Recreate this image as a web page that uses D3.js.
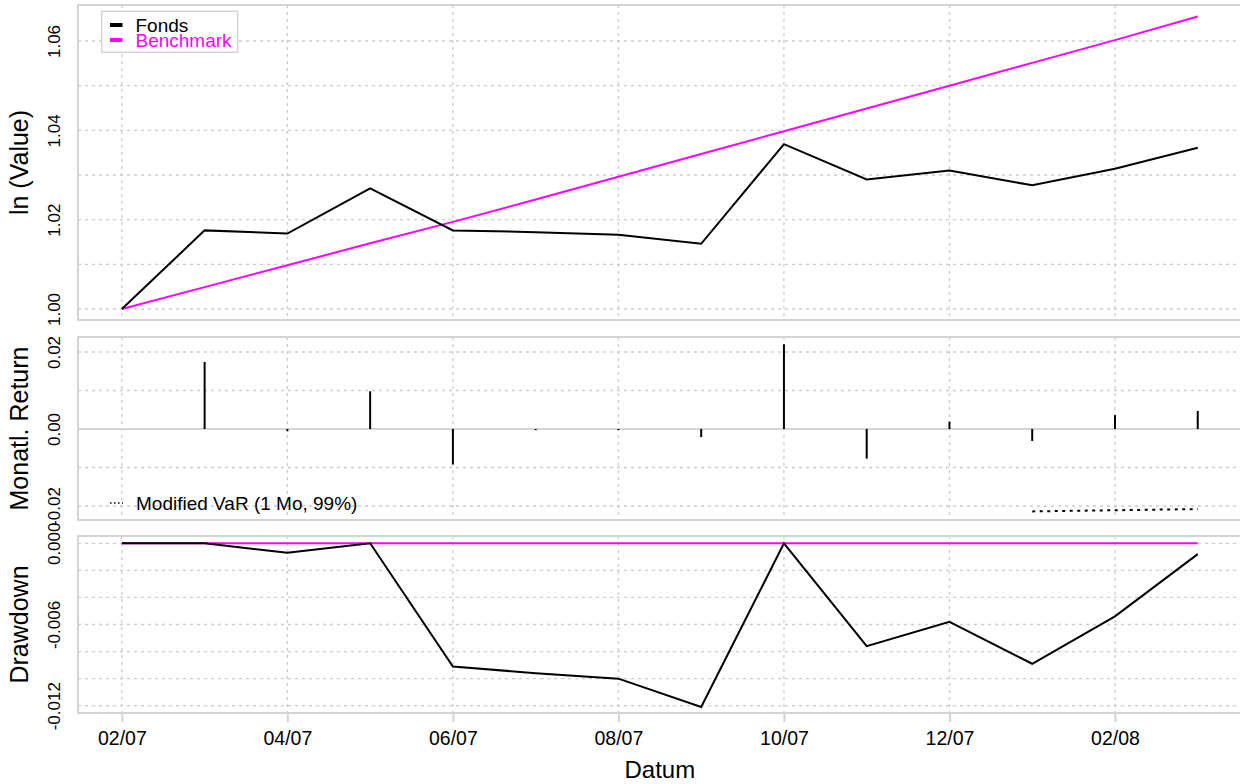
<!DOCTYPE html>
<html>
<head>
<meta charset="utf-8">
<script src="https://cdn.jsdelivr.net/npm/d3@7"></script>
<style>
  html, body { margin: 0; padding: 0; background: #fff; }
  svg { display: block; font-family: "Liberation Sans", Arial, Helvetica, sans-serif; }
</style>
</head>
<body>
<svg id="chart" width="1240" height="784"></svg>
<script>
// Monthly observations
const months = ["02/07","03/07","04/07","05/07","06/07","07/07","08/07","09/07",
                "10/07","11/07","12/07","01/08","02/08","03/08"];

// Cumulative value of the fund and of the benchmark
const fondsValue = [1.0000, 1.0176, 1.0169, 1.0270, 1.0176, 1.0172, 1.0166, 1.0146,
                    1.0369, 1.0290, 1.0310, 1.0277, 1.0314, 1.0361];
const benchmarkValue = [1.0000, 1.0049, 1.0098, 1.0147, 1.0195, 1.0245, 1.0296, 1.0347,
                        1.0398, 1.0449, 1.0500, 1.0551, 1.0602, 1.0655];

// Monthly returns of the fund (from 03/07 on)
const returnMonths = months.slice(1);
const monthlyReturn = [0.0174, -0.0006, 0.0098, -0.0092, -0.0003, -0.0003, -0.0021,
                       0.0220, -0.0077, 0.0019, -0.0031, 0.0036, 0.0047];

// Modified VaR (1 month, 99%)
const varMonths = ["01/08","02/08","03/08"];
const varValues = [-0.0214, -0.0211, -0.0208];

// Drawdowns
const drawdownFonds = [0, 0, -0.0007, 0, -0.0091, -0.0096, -0.0100, -0.0121,
                       0, -0.0076, -0.0058, -0.0089, -0.0054, -0.0008];
const drawdownBenchmark = [0, 0, 0, 0, 0, 0, 0, 0, 0, 0, 0, 0, 0, 0];

// Axis ticks and labels
const xTickMonths = ["02/07","04/07","06/07","08/07","10/07","12/07","02/08"];
const valueGrid = [1.00, 1.01, 1.02, 1.03, 1.04, 1.05, 1.06];
const valueTickLabels = ["1.00", "1.02", "1.04", "1.06"];
const returnGrid = [-0.02, -0.01, 0.01, 0.02];
const returnTickLabels = ["-0.02", "0.00", "0.02"];
const drawdownGrid = [0, -0.002, -0.004, -0.006, -0.008, -0.010, -0.012];
const drawdownTickLabels = ["0.000", "-0.006", "-0.012"];

const seriesNames = ["Fonds", "Benchmark"];
const seriesColors = ["#000000", "#ff00ff"];

// ---------------------------------------------------------------
const svg = d3.select("#chart");
const left = 78, right = 1241.6;
const panels = {
  value:    { top: 5,   bottom: 320 },
  ret:      { top: 337, bottom: 520 },
  drawdown: { top: 536, bottom: 713 }
};
const frameColor = "#d4d4d4";
const gridColor = "#cccccc";

const x = d3.scaleLinear().domain([-0.53, 13.53]).range([left, right]);
const xm = m => x(months.indexOf(m));

const yValue = d3.scaleLinear().domain([1.00, 1.06]).range([309, 41]);
const yRet = d3.scaleLinear().domain([-0.02, 0.02]).range([506, 352]);
const yDd = d3.scaleLinear().domain([-0.012, 0]).range([705.7, 543.3]);

function panelGrid(p, yScale, hValues) {
  const g = svg.append("g");
  g.selectAll("line.h").data(hValues).join("line")
    .attr("x1", left).attr("x2", right)
    .attr("y1", d => yScale(d)).attr("y2", d => yScale(d))
    .attr("stroke", gridColor).attr("stroke-width", 1.3)
    .attr("stroke-dasharray", "3,4");
  g.selectAll("line.v").data(xTickMonths).join("line")
    .attr("x1", d => xm(d)).attr("x2", d => xm(d))
    .attr("y1", p.top).attr("y2", p.bottom)
    .attr("stroke", gridColor).attr("stroke-width", 1.3)
    .attr("stroke-dasharray", "3,4");
}

function panelFrame(p) {
  svg.append("rect")
    .attr("x", left).attr("y", p.top)
    .attr("width", right - left).attr("height", p.bottom - p.top)
    .attr("fill", "none").attr("stroke", frameColor).attr("stroke-width", 2);
}

function yAxis(yScale, labels, parse) {
  const ax = d3.axisLeft(yScale)
    .tickValues(labels.map(parse))
    .tickSize(0)
    .tickFormat((d, i) => labels[i]);
  const g = svg.append("g").attr("transform", `translate(${left},0)`).call(ax);
  g.select(".domain").remove();
  g.selectAll("text")
    .attr("x", 0).attr("dy", 0)
    .attr("transform", "translate(-18,0) rotate(-90)")
    .attr("text-anchor", "middle")
    .attr("font-size", 17)
    .attr("font-family", "Liberation Sans, Arial, sans-serif")
    .attr("fill", "#000");
}

function yTitle(p, text) {
  const cy = (p.top + p.bottom) / 2;
  svg.append("text")
    .attr("transform", `translate(28,${cy}) rotate(-90)`)
    .attr("text-anchor", "middle")
    .attr("font-size", 25)
    .attr("fill", "#000")
    .text(text);
}

const line = (yScale) => d3.line().x((d, i) => x(i)).y(d => yScale(d));

// ---------- Panel 1: cumulative value ----------
panelGrid(panels.value, yValue, valueGrid);
panelFrame(panels.value);
svg.append("path").datum(benchmarkValue)
  .attr("d", line(yValue)).attr("fill", "none")
  .attr("stroke", seriesColors[1]).attr("stroke-width", 2);
svg.append("path").datum(fondsValue)
  .attr("d", line(yValue)).attr("fill", "none")
  .attr("stroke", seriesColors[0]).attr("stroke-width", 2)
  .attr("stroke-linejoin", "miter");
yAxis(yValue, valueTickLabels, Number);
yTitle(panels.value, "ln (Value)");

// legend
const lg = svg.append("g");
lg.append("rect").attr("x", 101.7).attr("y", 11.3).attr("width", 136).attr("height", 41)
  .attr("fill", "#fff").attr("stroke", frameColor).attr("stroke-width", 1.5);
seriesNames.forEach((name, i) => {
  const yy = 25 + i * 15;
  lg.append("line").attr("x1", 110).attr("x2", 122.5).attr("y1", yy).attr("y2", yy)
    .attr("stroke", seriesColors[i]).attr("stroke-width", 4);
  lg.append("text").attr("x", 135.5).attr("y", yy + 7)
    .attr("font-size", 19).attr("fill", seriesColors[i]).text(name);
});

// ---------- Panel 2: monthly returns ----------
panelGrid(panels.ret, yRet, returnGrid);
svg.append("line")
  .attr("x1", left).attr("x2", right)
  .attr("y1", yRet(0)).attr("y2", yRet(0))
  .attr("stroke", frameColor).attr("stroke-width", 2);
panelFrame(panels.ret);
svg.append("g").selectAll("line").data(monthlyReturn).join("line")
  .attr("x1", (d, i) => xm(returnMonths[i])).attr("x2", (d, i) => xm(returnMonths[i]))
  .attr("y1", yRet(0)).attr("y2", d => yRet(d))
  .attr("stroke", "#000").attr("stroke-width", 2);
svg.append("path").datum(varValues)
  .attr("d", d3.line().x((d, i) => xm(varMonths[i])).y(d => yRet(d)))
  .attr("fill", "none").attr("stroke", "#000").attr("stroke-width", 2)
  .attr("stroke-dasharray", "3,4.5");
// VaR legend entry
svg.append("line").attr("x1", 110).attr("x2", 123).attr("y1", 503).attr("y2", 503)
  .attr("stroke", "#000").attr("stroke-width", 1.5).attr("stroke-dasharray", "1.5,2.5");
svg.append("text").attr("x", 136).attr("y", 510)
  .attr("font-size", 19).attr("fill", "#000").text("Modified VaR (1 Mo, 99%)");
yAxis(yRet, returnTickLabels, Number);
yTitle(panels.ret, "Monatl. Return");

// ---------- Panel 3: drawdown ----------
panelGrid(panels.drawdown, yDd, drawdownGrid);
panelFrame(panels.drawdown);
svg.append("path").datum(drawdownBenchmark)
  .attr("d", line(yDd)).attr("fill", "none")
  .attr("stroke", seriesColors[1]).attr("stroke-width", 2);
svg.append("path").datum(drawdownFonds)
  .attr("d", line(yDd)).attr("fill", "none")
  .attr("stroke", seriesColors[0]).attr("stroke-width", 2);
yAxis(yDd, drawdownTickLabels, Number);
yTitle(panels.drawdown, "Drawdown");

// ---------- bottom time axis ----------
const xAxis = d3.axisBottom(x)
  .tickValues(xTickMonths.map(m => months.indexOf(m)))
  .tickSize(9)
  .tickFormat(i => months[i]);
const xg = svg.append("g").attr("transform", `translate(0,${panels.drawdown.bottom})`).call(xAxis);
xg.select(".domain").remove();
xg.selectAll(".tick line").attr("stroke", frameColor).attr("stroke-width", 2);
xg.selectAll("text")
  .attr("y", 32).attr("dy", 0)
  .attr("font-size", 19.5)
  .attr("font-family", "Liberation Sans, Arial, sans-serif")
  .attr("fill", "#000");

svg.append("text")
  .attr("x", (left + right) / 2).attr("y", 778)
  .attr("text-anchor", "middle")
  .attr("font-size", 24).attr("fill", "#000")
  .text("Datum");
</script>
</body>
</html>
